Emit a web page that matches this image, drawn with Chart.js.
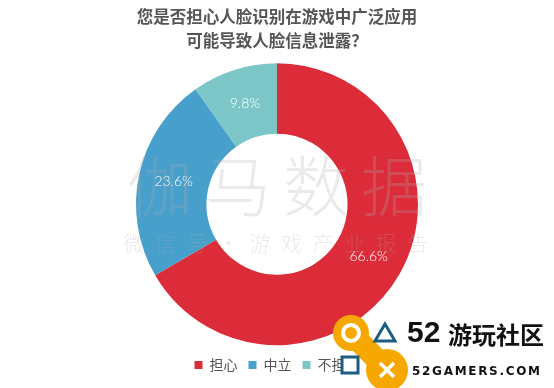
<!DOCTYPE html>
<html>
<head>
<meta charset="utf-8">
<script src="https://cdn.jsdelivr.net/npm/chart.js@4"></script>
<style>
  html, body { margin: 0; padding: 0; background: #fff; }
  #wrap { width: 554px; height: 388px; position: relative; }
</style>
</head>
<body>
<div id="wrap"><canvas id="donut"></canvas></div>
<script>
  const TITLE = ["您是否担心人脸识别在游戏中广泛应用", "可能导致人脸信息泄露？"];
  const CATEGORIES = ["担心", "中立", "不担心"];
  const VALUES = [66.6, 23.6, 9.8];
  const COLORS = ["#dc2c3a", "#479fcc", "#7cc6c8"];

  const CJK = "'Noto Sans CJK SC', 'Noto Sans', sans-serif";

  /* ---------- PLUGINS ---------- */

  // white percentage labels in the middle of each ring slice
  const sliceLabels = {
    id: "sliceLabels",
    afterDatasetsDraw(chart) {
      const { ctx } = chart;
      const meta = chart.getDatasetMeta(0);
      ctx.save();
      ctx.fillStyle = "#fff";
      ctx.font = "300 14px Lato, 'Open Sans', sans-serif";
      ctx.textAlign = "center";
      ctx.textBaseline = "middle";
      meta.data.forEach((arc, i) => {
        const p = arc.tooltipPosition();
        ctx.fillText(VALUES[i].toFixed(1) + "%", p.x, p.y);
      });
      ctx.restore();
    }
  };

  // faint watermark + corner logo laid over the picture
  const overlay = {
    id: "overlay",
    afterDraw(chart) {
      const { ctx } = chart;
      ctx.save();
      ctx.fillStyle = "rgba(170,170,170,0.25)";
      ctx.textAlign = "center";
      ctx.textBaseline = "middle";
      ctx.font = "300 66px " + CJK;
      ["伽", "马", "数", "据"].forEach((c, i) => ctx.fillText(c, 160 + i * 78, 186));
      ctx.font = "300 21px " + CJK;
      ["微", "信", "号", "·", "游", "戏", "产", "业", "报", "告"]
        .forEach((c, i) => ctx.fillText(c, 134 + i * 31.5, 243));

      // logo
      ctx.fillStyle = "#f7a800";
      ctx.beginPath(); ctx.arc(351, 333, 18, 0, Math.PI * 2); ctx.fill();
      ctx.beginPath(); ctx.arc(387, 370, 21, 0, Math.PI * 2); ctx.fill();
      ctx.lineWidth = 22; ctx.strokeStyle = "#f7a800"; ctx.lineCap = "round";
      ctx.beginPath(); ctx.moveTo(351, 333); ctx.lineTo(387, 370); ctx.stroke();
      ctx.strokeStyle = "#fff"; ctx.lineWidth = 4;
      ctx.beginPath(); ctx.arc(351, 333, 8, 0, Math.PI * 2); ctx.stroke();
      ctx.lineWidth = 3.5; ctx.lineCap = "butt";
      ctx.beginPath();
      ctx.moveTo(380, 363); ctx.lineTo(394, 377);
      ctx.moveTo(394, 363); ctx.lineTo(380, 377);
      ctx.stroke();
      ctx.strokeStyle = "#1d5d83"; ctx.lineWidth = 3;
      ctx.beginPath(); ctx.moveTo(385, 324); ctx.lineTo(395, 341); ctx.lineTo(375, 341); ctx.closePath(); ctx.stroke();
      ctx.fillStyle = "#fff";
      ctx.fillRect(341, 356, 18, 18);
      ctx.strokeRect(342, 357, 16, 16);

      ctx.fillStyle = "#111";
      ctx.textAlign = "left";
      ctx.font = "bold 30px 'Liberation Sans Narrow', 'Liberation Sans', sans-serif";
      ctx.fillText("52", 407, 334);
      ctx.font = "bold 24px " + CJK;
      ctx.fillText("游玩社区", 448, 335);
      ctx.font = "bold 12px 'DejaVu Sans', sans-serif";
      ctx.letterSpacing = "1.7px";
      ctx.fillText("52GAMERS.COM", 412, 372);
      ctx.restore();
    }
  };

  /* ---------- CHART ---------- */

  new Chart(document.getElementById("donut"), {
    type: "doughnut",
    data: {
      labels: CATEGORIES,
      datasets: [{
        data: VALUES,
        backgroundColor: COLORS,
        borderWidth: 0,
        radius: 141
      }]
    },
    options: {
      responsive: true,
      maintainAspectRatio: false,
      animation: false,
      cutout: "50%",
      layout: { padding: { top: 0, bottom: 6, left: 0, right: 0 } },
      plugins: {
        tooltip: { enabled: false },
        title: {
          display: true,
          text: TITLE,
          color: "#555",
          font: { family: CJK, size: 16.5, weight: "bold", lineHeight: 1.5 },
          padding: { top: 4, bottom: 8 }
        },
        legend: {
          position: "bottom",
          labels: {
            color: "#555",
            font: { family: CJK, size: 14 },
            usePointStyle: true,
            pointStyle: "rect",
            boxWidth: 8,
            boxHeight: 8,
            padding: 11
          }
        }
      }
    },
    plugins: [sliceLabels, overlay]
  });
</script>
</body>
</html>
